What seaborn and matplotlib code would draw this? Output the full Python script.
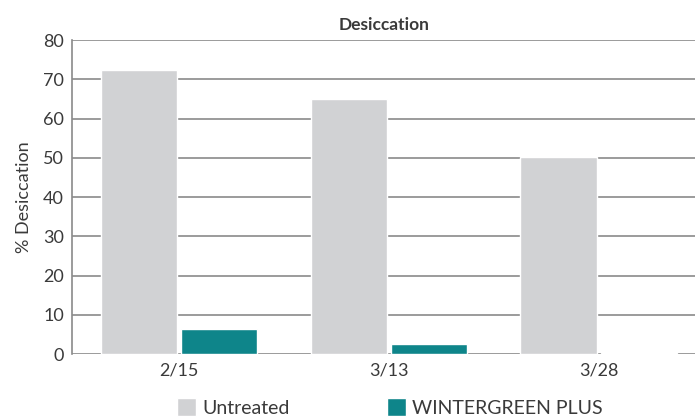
import pandas as pd
import matplotlib.pyplot as plt
import seaborn as sns

dates = ["2/15", "3/13", "3/28"]
untreated = [72.4, 65.0, 50.1]
wintergreen = [6.4, 2.6, 0.2]
series_names = ["Untreated", "WINTERGREEN PLUS"]
colors = ["#d1d2d4", "#0e858a"]

df = pd.DataFrame({
    "date": dates * 2,
    "value": untreated + wintergreen,
    "series": [series_names[0]] * 3 + [series_names[1]] * 3,
})

sns.set_style("white")
plt.rcParams["font.family"] = ["Lato", "DejaVu Sans"]

fig = plt.figure(figsize=(6.95, 4.17), dpi=100)
ax = fig.add_axes([0.104, 0.151, 0.896, 0.753])

sns.barplot(data=df, x="date", y="value", hue="series", palette=colors,
            width=0.764, gap=0.05, saturation=1, ax=ax, zorder=3)

ax.set_xlim(-0.51, 2.46)
ax.set_ylim(0, 80)
ax.set_yticks(range(0, 81, 10))
ax.yaxis.grid(True, color="#8a8a8a", linewidth=1.2, zorder=0)
ax.set_axisbelow(True)
for s in ["top", "right", "bottom"]:
    ax.spines[s].set_visible(False)
ax.spines["left"].set_color("#8a8a8a")
ax.spines["left"].set_linewidth(1.2)
ax.tick_params(axis="both", labelsize=13, colors="#3a3a3a", length=0, pad=6)

ax.set_xlabel("")
ax.set_ylabel("% Desiccation", fontsize=13, color="#3a3a3a", labelpad=8)
ax.set_title("Desiccation", fontsize=12.5, fontweight="bold", color="#3a3a3a", pad=7)

ax.legend(loc="upper center", bbox_to_anchor=(0.51, -0.085), ncol=2, frameon=False,
          fontsize=14, handlelength=1.0, handleheight=1.0, columnspacing=5,
          handletextpad=0.3, labelcolor="#3a3a3a")

fig.savefig("out.png", dpi=100)
